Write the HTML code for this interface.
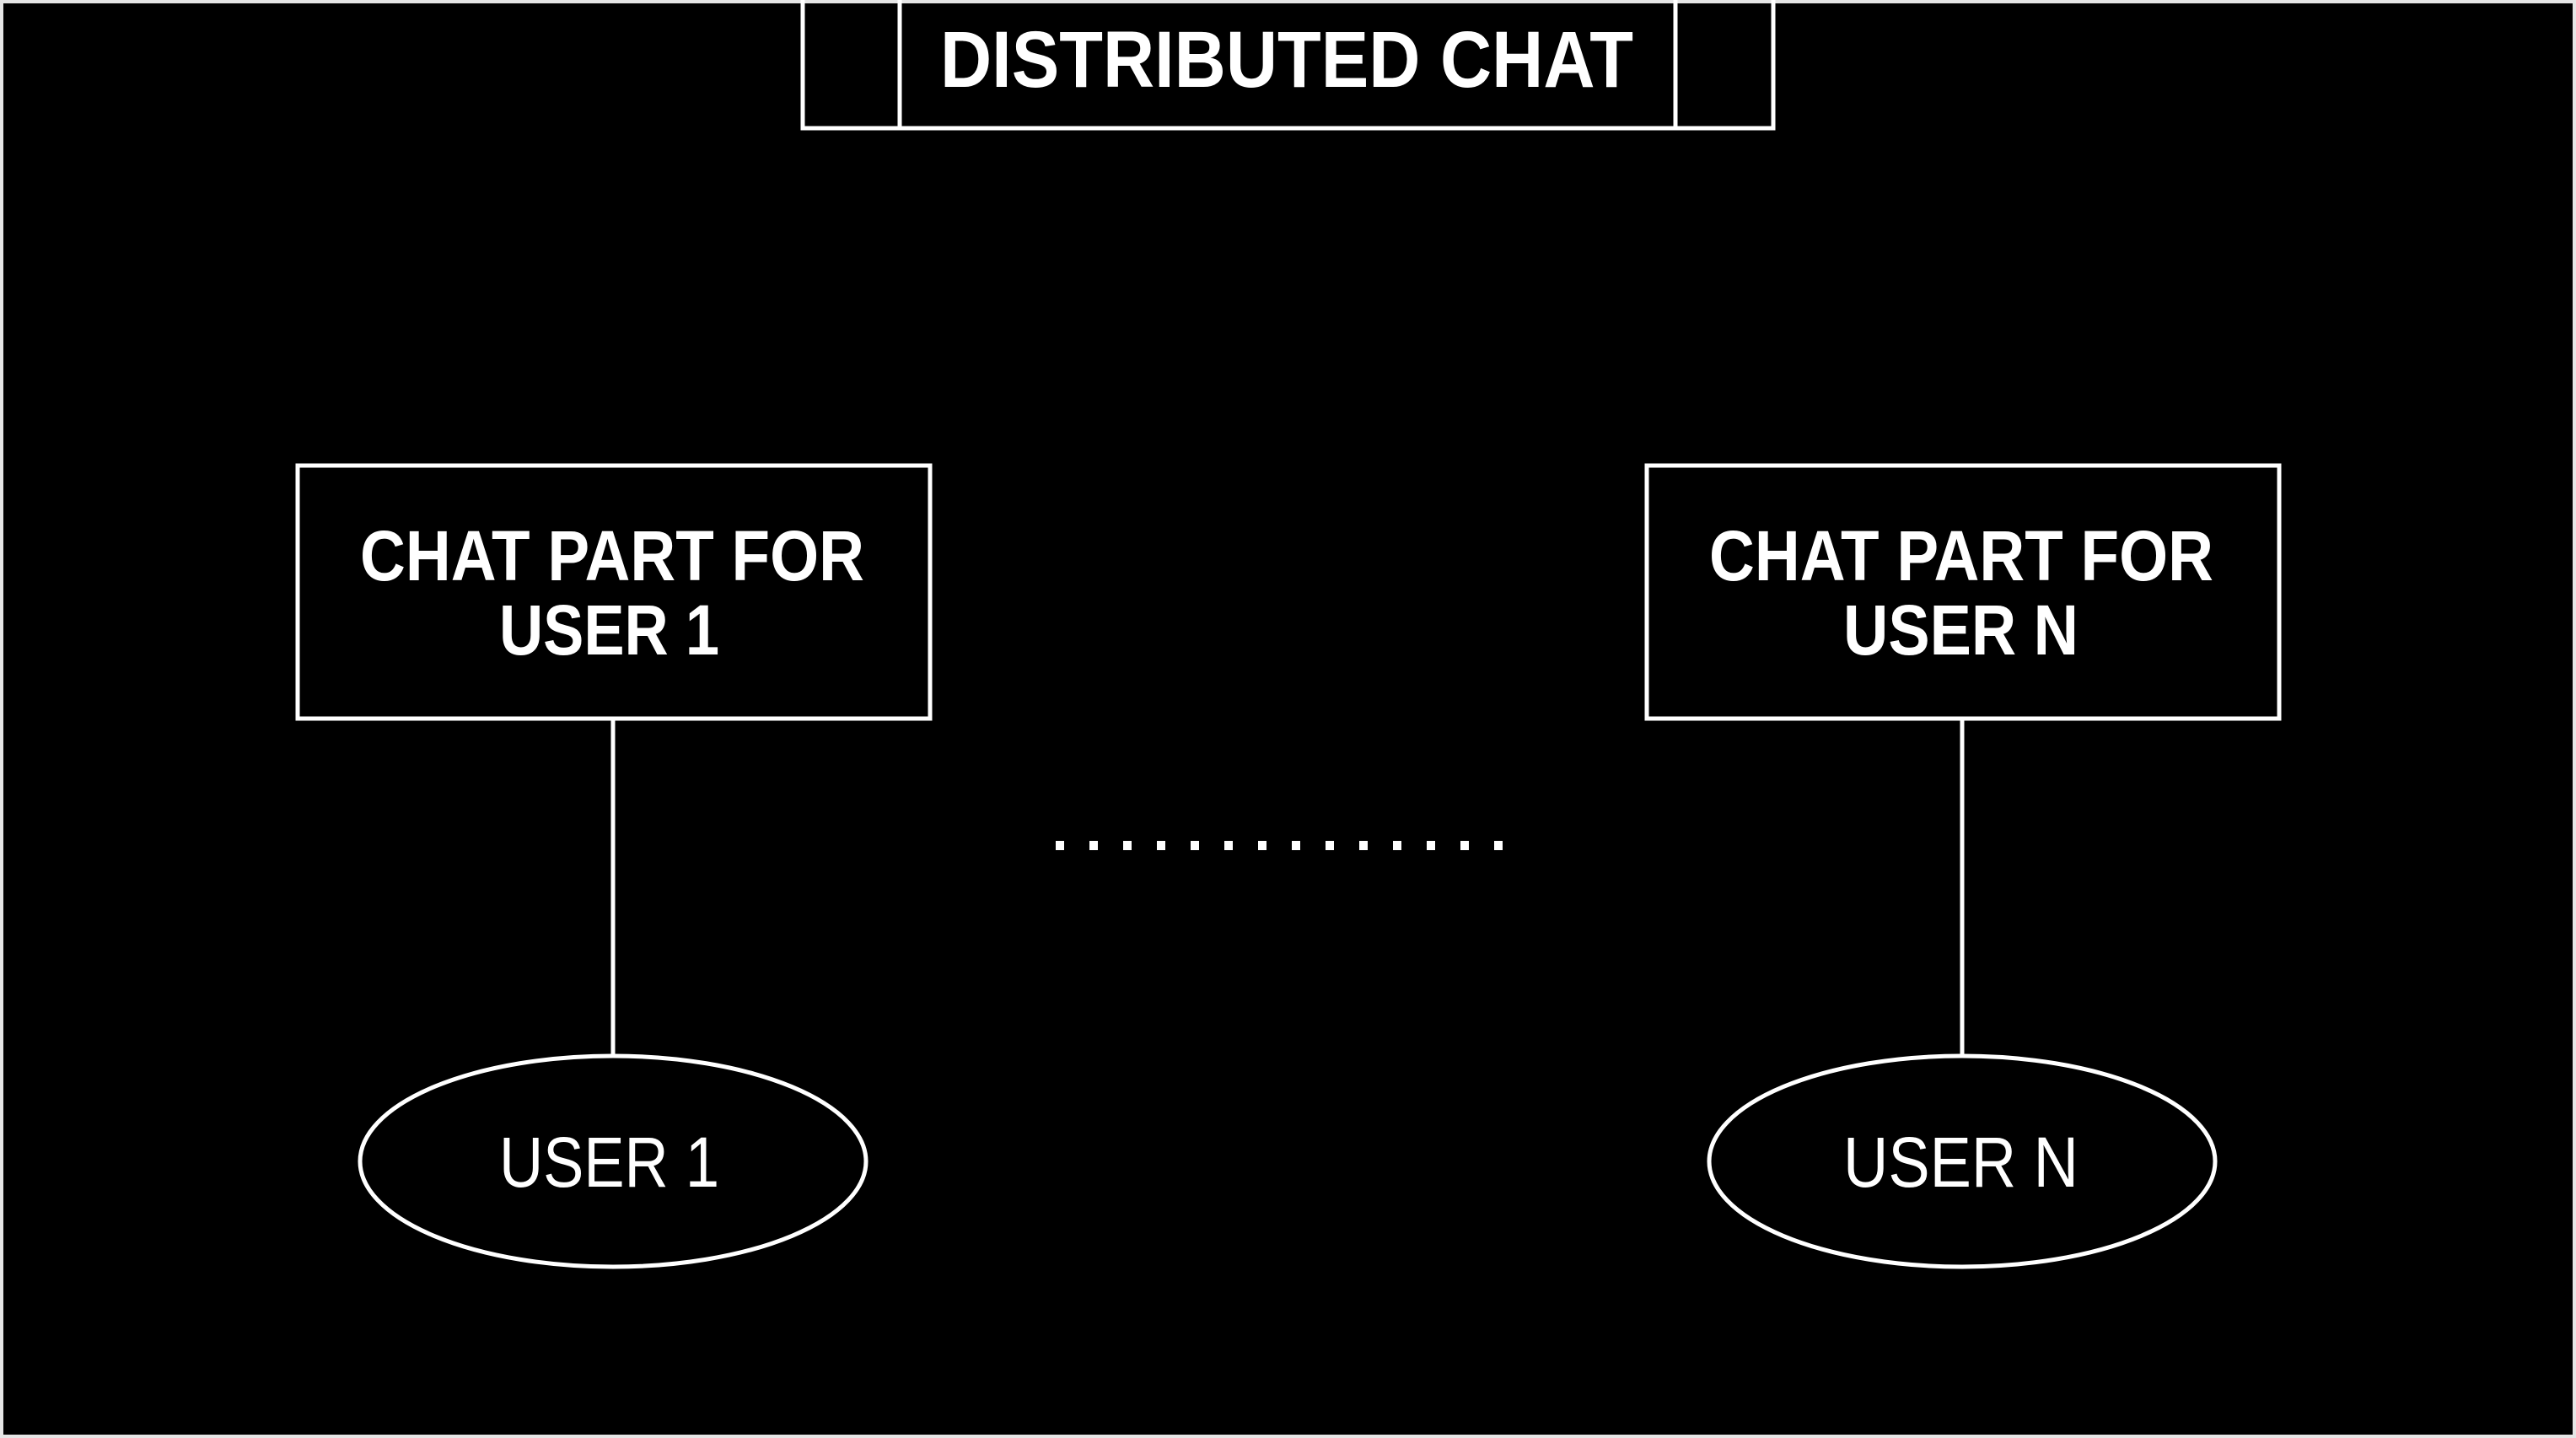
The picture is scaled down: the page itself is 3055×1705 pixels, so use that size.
<!DOCTYPE html>
<html><head><meta charset="utf-8"><style>
html,body{margin:0;padding:0;background:#000;}
svg{display:block;}
</style></head><body>
<svg width="3055" height="1705" viewBox="0 0 3055 1705" xmlns="http://www.w3.org/2000/svg">
<rect x="0" y="0" width="3055" height="1705" fill="#000"/>
<rect x="2" y="2" width="3051" height="1701" fill="none" stroke="#e6e6e6" stroke-width="4"/>
<g fill="none" stroke="#fff" stroke-width="5">
<rect x="952" y="-4" width="1151" height="156"/>
<line x1="1067" y1="0" x2="1067" y2="152"/>
<line x1="1987" y1="0" x2="1987" y2="152"/>
<rect x="353" y="552" width="750" height="300"/>
<rect x="1953" y="552" width="750" height="300"/>
<line x1="727" y1="852" x2="727" y2="1252"/>
<line x1="2327" y1="852" x2="2327" y2="1252"/>
<ellipse cx="727" cy="1377" rx="300" ry="125"/>
<ellipse cx="2327" cy="1377" rx="300" ry="125"/>
</g>
<g fill="#fff" font-family="'Liberation Sans', Arial, sans-serif">
<text x="1115" y="103" font-size="95" font-weight="bold" textLength="822" lengthAdjust="spacingAndGlyphs">DISTRIBUTED CHAT</text>
<text x="427" y="688" font-size="84" font-weight="bold" textLength="598" lengthAdjust="spacingAndGlyphs">CHAT PART FOR</text>
<text x="592" y="776" font-size="84" font-weight="bold" textLength="261" lengthAdjust="spacingAndGlyphs">USER 1</text>
<text x="2027" y="688" font-size="84" font-weight="bold" textLength="598" lengthAdjust="spacingAndGlyphs">CHAT PART FOR</text>
<text x="2186" y="776" font-size="84" font-weight="bold" textLength="279" lengthAdjust="spacingAndGlyphs">USER N</text>
<text x="592" y="1407" font-size="84" textLength="261" lengthAdjust="spacingAndGlyphs">USER 1</text>
<text x="2186" y="1407" font-size="84" textLength="279" lengthAdjust="spacingAndGlyphs">USER N</text>
</g>
<g fill="#fff">
<rect x="1252" y="997" width="10" height="11"/>
<rect x="1292" y="997" width="10" height="11"/>
<rect x="1332" y="997" width="10" height="11"/>
<rect x="1372" y="997" width="10" height="11"/>
<rect x="1412" y="997" width="10" height="11"/>
<rect x="1452" y="997" width="10" height="11"/>
<rect x="1492" y="997" width="10" height="11"/>
<rect x="1532" y="997" width="10" height="11"/>
<rect x="1572" y="997" width="10" height="11"/>
<rect x="1612" y="997" width="10" height="11"/>
<rect x="1652" y="997" width="10" height="11"/>
<rect x="1692" y="997" width="10" height="11"/>
<rect x="1732" y="997" width="10" height="11"/>
<rect x="1772" y="997" width="10" height="11"/>
</g>
</svg>
</body></html>
